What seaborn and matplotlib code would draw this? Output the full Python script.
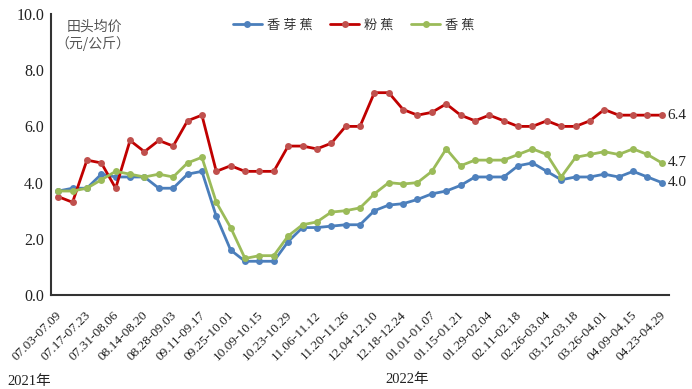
# banana farm-gate price chart, weekly, 2021-07 to 2022-04

import numpy as np
import pandas as pd
import matplotlib
matplotlib.use("Agg")
import matplotlib.pyplot as plt
import matplotlib.transforms as mtrans
import seaborn as sns

# ==========================================
# DATA
# ==========================================

week_labels = [
    "07.03-07.09", "07.17-07.23", "07.31-08.06", "08.14-08.20", "08.28-09.03",
    "09.11-09.17", "09.25-10.01", "10.09-10.15", "10.23-10.29", "11.06-11.12",
    "11.20-11.26", "12.04-12.10", "12.18-12.24", "01.01-01.07", "01.15-01.21",
    "01.29-02.04", "02.11-02.18", "02.26-03.04", "03.12-03.18", "03.26-04.01",
    "04.09-04.15", "04.23-04.29",
]

xiangyajiao = [3.7, 3.8, 3.8, 4.3, 4.2, 4.2, 4.2, 3.8, 3.8, 4.3,
               4.4, 2.8, 1.6, 1.2, 1.2, 1.2, 1.9, 2.4, 2.4, 2.45,
               2.5, 2.5, 3.0, 3.2, 3.25, 3.4, 3.6, 3.7, 3.9, 4.2,
               4.2, 4.2, 4.6, 4.7, 4.4, 4.1, 4.2, 4.2, 4.3, 4.2,
               4.4, 4.2, 4.0]
fenjiao = [3.5, 3.3, 4.8, 4.7, 3.8, 5.5, 5.1, 5.5, 5.3, 6.2,
           6.4, 4.4, 4.6, 4.4, 4.4, 4.4, 5.3, 5.3, 5.2, 5.4,
           6.0, 6.0, 7.2, 7.2, 6.6, 6.4, 6.5, 6.8, 6.4, 6.2,
           6.4, 6.2, 6.0, 6.0, 6.2, 6.0, 6.0, 6.2, 6.6, 6.4,
           6.4, 6.4, 6.4]
xiangjiao = [3.7, 3.7, 3.8, 4.1, 4.4, 4.3, 4.2, 4.3, 4.2, 4.7,
             4.9, 3.3, 2.4, 1.3, 1.4, 1.4, 2.1, 2.5, 2.6, 2.95,
             3.0, 3.1, 3.6, 4.0, 3.95, 4.0, 4.4, 5.2, 4.6, 4.8,
             4.8, 4.8, 5.0, 5.2, 5.0, 4.2, 4.9, 5.0, 5.1, 5.0,
             5.2, 5.0, 4.7]

series_names = ["香芽蕉", "粉蕉", "香蕉"]
legend_names = ["香 芽 蕉", "粉 蕉", "香 蕉"]
line_colors = ["#4A7EBB", "#C00000", "#9BBB59"]
marker_colors = ["#4F81BD", "#C0504D", "#9BBB59"]

weeks = np.arange(len(fenjiao))
data = pd.DataFrame({
    "week": weeks,
    "香芽蕉": xiangyajiao,
    "粉蕉": fenjiao,
    "香蕉": xiangjiao,
})

# ==========================================
# STYLE
# ==========================================

sns.set_style("white")
plt.rcParams["font.family"] = ["Liberation Serif", "Noto Sans CJK SC"]
plt.rcParams["axes.unicode_minus"] = False

fig = plt.figure(figsize=(6.92, 3.89), dpi=100)
ax = fig.add_axes([51 / 692, 94 / 389, 618 / 692, 281 / 389])

# ==========================================
# LINES
# ==========================================

for name, lab, lc, mc in zip(series_names, legend_names, line_colors, marker_colors):
    sns.lineplot(
        data=data, x="week", y=name, ax=ax,
        color=lc, linewidth=2.0, marker="o", markersize=5,
        markerfacecolor=mc, markeredgecolor=mc, markeredgewidth=0,
        label=lab,
    )

# end labels
for vals in [fenjiao, xiangjiao, xiangyajiao]:
    ax.annotate(f"{vals[-1]:.1f}", (weeks[-1], vals[-1]),
                xytext=(4, 0), textcoords="offset points",
                va="center", ha="left", fontsize=11, color="#222222",
                annotation_clip=False)

# ==========================================
# AXES
# ==========================================

ax.set_xlim(-0.5, len(weeks) - 0.5)
ax.set_ylim(0, 10)
ax.set_yticks(np.arange(0, 10.1, 2))
ax.set_yticklabels([f"{v:.1f}" for v in np.arange(0, 10.1, 2)], fontsize=11.5)

ax.set_xticks(weeks[::2])
ax.set_xticklabels(week_labels, rotation=45, ha="right", fontsize=9.6)
ax.set_xticks(np.arange(-0.5, len(weeks)), minor=True)
ax.tick_params(axis="x", which="major", length=0, pad=10)
ax.tick_params(axis="x", which="minor", length=4, width=1.2, color="#333333",
               direction="out")
ax.tick_params(axis="y", length=4, width=1.2, color="#333333", direction="out",
               pad=1)
ax.tick_params(axis="both", labelcolor="#222222")

shift = mtrans.ScaledTranslation(6 / 100, 0, fig.dpi_scale_trans)
for lab in ax.get_xticklabels():
    lab.set_transform(lab.get_transform() + shift)

for side in ["top", "right"]:
    ax.spines[side].set_visible(False)
for side in ["left", "bottom"]:
    ax.spines[side].set_color("#333333")
    ax.spines[side].set_linewidth(1.5)

ax.set_xlabel("")
ax.set_ylabel("")

# ==========================================
# TEXT AND LEGEND
# ==========================================

ax.text(0.6, 9.55, "田头均价", fontsize=10, color="#555555",
        family=["Noto Sans CJK SC"], ha="left", va="center")
ax.text(-0.2, 8.95, "（元/公斤）", fontsize=10, color="#555555",
        family=["Noto Sans CJK SC"], ha="left", va="center")

ax.legend(loc="upper center", bbox_to_anchor=(0.49, 1.025), ncol=3,
          frameon=False, handlelength=2.2, handletextpad=0.4,
          columnspacing=1.3,
          prop={"family": ["Noto Sans CJK SC"], "size": 9.5},
          labelcolor="#333333")

fig.text(7 / 692, 1 - 382 / 389, "2021年", fontsize=10.5, va="center",
         ha="left", color="#222222")
fig.text(385 / 692, 1 - 380 / 389, "2022年", fontsize=10.5, va="center",
         ha="left", color="#222222")

plt.savefig("out.png", dpi=100)
